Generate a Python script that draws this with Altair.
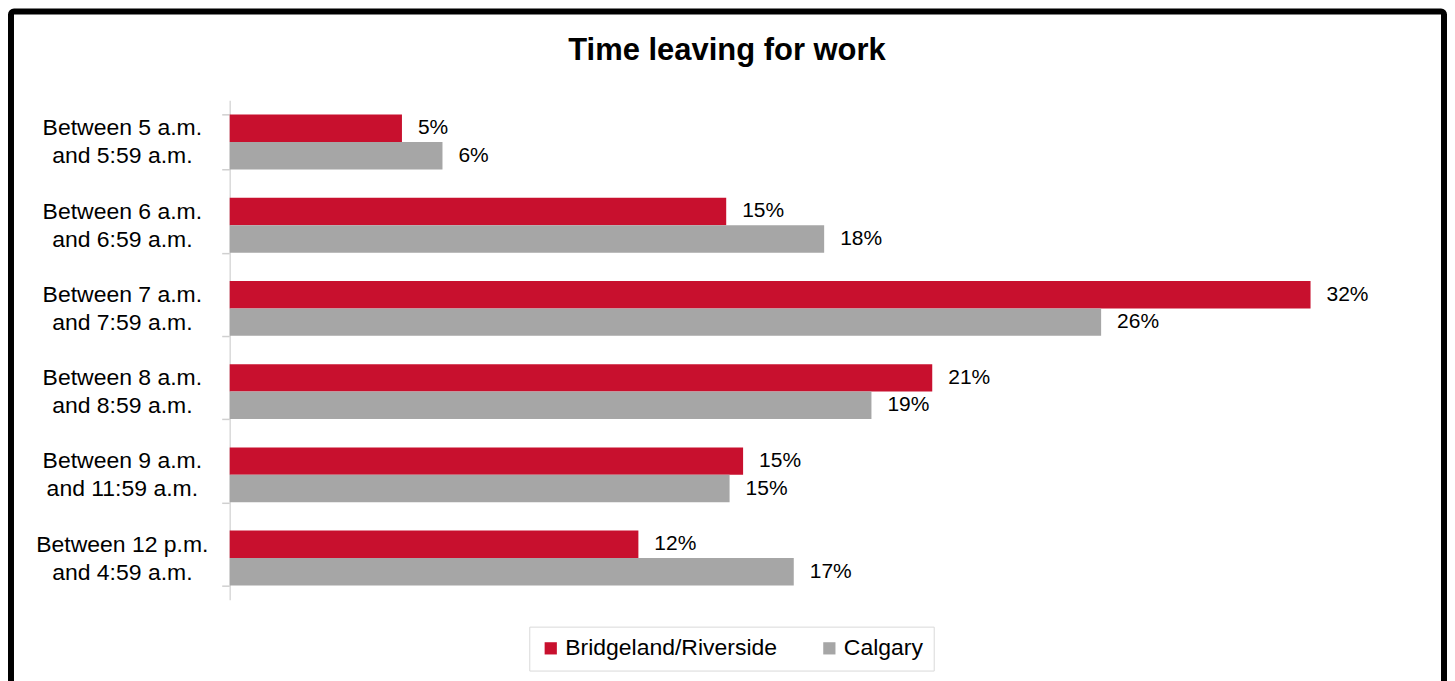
import altair as alt
import pandas as pd

categories = [
    "Between 5 a.m. and 5:59 a.m.",
    "Between 6 a.m. and 6:59 a.m.",
    "Between 7 a.m. and 7:59 a.m.",
    "Between 8 a.m. and 8:59 a.m.",
    "Between 9 a.m. and 11:59 a.m.",
    "Between 12 p.m. and 4:59 a.m.",
]
series = ["Bridgeland/Riverside", "Calgary"]
bridgeland = [5.1, 14.7, 32.0, 20.8, 15.2, 12.1]
calgary = [6.3, 17.6, 25.8, 19.0, 14.8, 16.7]
colors = ["#C8102E", "#A6A6A6"]

rows = []
for c, b, g in zip(categories, bridgeland, calgary):
    rows.append({"cat": c, "series": series[0], "value": b})
    rows.append({"cat": c, "series": series[1], "value": g})
df = pd.DataFrame(rows)

FONT = "Liberation Sans"

y_enc = alt.Y(
    "cat:N",
    sort=categories,
    scale=alt.Scale(paddingInner=0.34, paddingOuter=0.17),
    axis=alt.Axis(
        title=None,
        labelExpr="[slice(datum.label, 0, indexof(datum.label, ' and')), slice(datum.label, indexof(datum.label, ' and') + 1)]",
        labelAlign="center",
        labelPadding=100,
        labelOffset=-14,
        labelFontSize=23,
        labelLineHeight=28,
        labelFont=FONT,
        labelColor="#000000",
        domainColor="#D9D9D9",
        domainWidth=1.5,
        tickColor="#D0D0D0",
        tickWidth=1.5,
        tickSize=8,
        tickBand="extent",
        labelLimit=400,
    ),
)
yoff = alt.YOffset("series:N", sort=series, scale=alt.Scale(paddingInner=0))
x_enc = alt.X("value:Q", scale=alt.Scale(domain=[0, 34], nice=False), axis=None)

base = alt.Chart(df)

bars = base.mark_bar().encode(
    y=y_enc,
    yOffset=yoff,
    x=x_enc,
    color=alt.Color(
        "series:N",
        sort=series,
        scale=alt.Scale(domain=series, range=colors),
        legend=alt.Legend(
            title=None,
            orient="none",
            direction="horizontal",
            legendX=300,
            legendY=527,
            labelFontSize=23,
            labelFont=FONT,
            labelColor="#000000",
            symbolType="square",
            symbolSize=150,
            symbolStrokeWidth=0,
            labelOffset=3,
            columnPadding=40,
            strokeColor="#D9D9D9",
            padding=10,
            labelLimit=400,
        ),
    ),
)

labels = base.mark_text(align="left", baseline="middle", dx=16, fontSize=21, font=FONT, color="#000000").transform_calculate(
    label="format(round(datum.value) / 100, '.0%')"
).encode(
    y=alt.Y("cat:N", sort=categories),
    yOffset=yoff,
    x=alt.X("value:Q"),
    text="label:N",
)

one = alt.Chart(pd.DataFrame({"t": ["Time leaving for work"]}))
title = one.mark_text(fontSize=31, fontWeight="bold", font=FONT, color="#000000", align="center", baseline="alphabetic").encode(
    x=alt.value(498), y=alt.value(-40), text="t:N"
)
frame = one.mark_rect(filled=False, stroke="#000000", strokeWidth=6, cornerRadius=3).encode(
    x=alt.value(-219), x2=alt.value(1216), y=alt.value(-89), y2=alt.value(600)
)

chart = alt.layer(frame, bars, labels, title).properties(
    width=1150,
    height=500,
    padding={"left": 222, "top": 92, "right": 69, "bottom": 108},
    autosize=alt.AutoSizeParams(type="none"),
).configure_view(stroke=None)

chart.save("out.html", embed_options={"renderer": "svg", "actions": False})
